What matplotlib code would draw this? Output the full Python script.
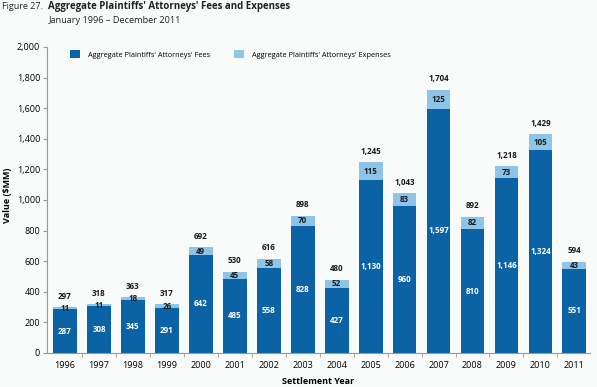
import matplotlib.pyplot as plt
import numpy as np

years = [str(y) for y in range(1996, 2012)]
fees = [287, 308, 345, 291, 642, 485, 558, 828, 427, 1130, 960, 1597, 810, 1146, 1324, 551]
expenses = [11, 11, 18, 26, 49, 45, 58, 70, 52, 115, 83, 125, 82, 73, 105, 43]
totals = [297, 318, 363, 317, 692, 530, 616, 898, 480, 1245, 1043, 1704, 892, 1218, 1429, 594]

dark = '#0b62a4'
light = '#8ec4e8'
bg = '#f9fbfb'

plt.rcParams['font.family'] = ['Open Sans', 'DejaVu Sans']

fig = plt.figure(figsize=(5.97, 3.87), dpi=100, facecolor=bg)
ax = fig.add_axes([0.0787, 0.0879, 0.909, 0.7907], facecolor=bg)

x = np.arange(len(years))
w = 0.7
ax.bar(x, fees, w, color=dark, label="Aggregate Plaintiffs' Attorneys' Fees")
ax.bar(x, expenses, w, bottom=fees, color=light, label="Aggregate Plaintiffs' Attorneys' Expenses")

for i in range(len(years)):
    ax.text(x[i], fees[i] / 2, f"{fees[i]:,}", ha='center', va='center',
            color='white', fontsize=5.8, fontweight='bold')
    ax.text(x[i], fees[i] + expenses[i] / 2, f"{expenses[i]:,}", ha='center', va='center',
            color='#1a1a1a', fontsize=5.8, fontweight='bold')
    ax.annotate(f"{totals[i]:,}", (x[i], fees[i] + expenses[i]), xytext=(0, 8),
                textcoords='offset points', ha='center', va='center',
                fontsize=5.8, fontweight='bold', color='#1a1a1a')

ax.set_xlim(-0.53, 15.45)
ax.set_ylim(0, 2000)
ax.set_yticks(range(0, 2001, 200))
ax.set_yticklabels([f"{v:,}" for v in range(0, 2001, 200)], fontsize=6.5)
ax.set_xticks(x)
ax.set_xticklabels(years, fontsize=6.5)
ax.set_xticks(x[:-1] + 0.5, minor=True)
ax.tick_params(axis='x', which='major', length=0, pad=6)
ax.tick_params(axis='x', which='minor', length=3, color='#999999')
ax.tick_params(axis='y', length=3, color='#999999', pad=2)

for s in ['top', 'right']:
    ax.spines[s].set_visible(False)
ax.spines['left'].set_color('#999999')
ax.spines['bottom'].set_color('#999999')
ax.spines['left'].set_linewidth(0.8)
ax.spines['bottom'].set_linewidth(0.8)

ax.set_ylabel('Value ($MM)', fontsize=6.5, fontweight='bold')
ax.yaxis.set_label_coords(-0.064, 0.516)
ax.set_xlabel('Settlement Year', fontsize=6.5, fontweight='bold', labelpad=5)

ax.legend(loc='upper left', bbox_to_anchor=(0.03, 1.012), ncol=2, frameon=False,
          fontsize=5.3, handlelength=1.35, handleheight=1.35, columnspacing=3.2,
          handletextpad=1.1)

fig.text(0.004, 0.982, 'Figure 27.', fontsize=6.5, va='center', color='#222222')
fig.text(0.080, 0.982, "Aggregate Plaintiffs' Attorneys' Fees and Expenses",
         fontsize=7, fontweight='bold', va='center', color='#222222')
fig.text(0.081, 0.946, 'January 1996 \u2013 December 2011', fontsize=6.6,
         va='center', color='#222222')

fig.savefig('out.png', dpi=100, facecolor=bg)
